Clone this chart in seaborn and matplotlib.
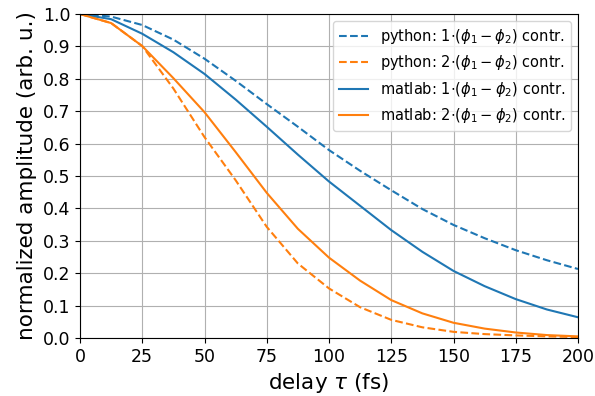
import matplotlib
matplotlib.use("Agg")
import matplotlib.pyplot as plt
import seaborn as sns
import pandas as pd

delay = [0, 12.5, 25, 37.5, 50, 62.5, 75, 87.5, 100, 112.5, 125, 137.5, 150, 162.5, 175, 187.5, 200]
python_1 = [1.0, 0.992, 0.966, 0.921, 0.862, 0.794, 0.722, 0.652, 0.58, 0.516, 0.456, 0.398, 0.349, 0.308, 0.271, 0.24, 0.213]
python_2 = [1.0, 0.972, 0.901, 0.77, 0.62, 0.487, 0.343, 0.23, 0.153, 0.095, 0.056, 0.033, 0.019, 0.012, 0.008, 0.005, 0.003]
matlab_1 = [1.0, 0.984, 0.939, 0.882, 0.815, 0.736, 0.652, 0.566, 0.483, 0.408, 0.333, 0.266, 0.207, 0.16, 0.12, 0.088, 0.064]
matlab_2 = [1.0, 0.972, 0.901, 0.802, 0.697, 0.574, 0.448, 0.337, 0.248, 0.177, 0.117, 0.076, 0.047, 0.029, 0.017, 0.009, 0.005]

labels = [r"python: 1$\cdot(\phi_1-\phi_2)$ contr.",
          r"python: 2$\cdot(\phi_1-\phi_2)$ contr.",
          r"matlab: 1$\cdot(\phi_1-\phi_2)$ contr.",
          r"matlab: 2$\cdot(\phi_1-\phi_2)$ contr."]
series = [python_1, python_2, matlab_1, matlab_2]
colors = ["#1f77b4", "#ff7f0e", "#1f77b4", "#ff7f0e"]
styles = ["--", "--", "-", "-"]

sns.reset_orig()
plt.rcParams["font.family"] = ["DejaVu Sans"]

fig = plt.figure(figsize=(5.95, 3.96), dpi=100)
ax = fig.add_axes([80/595, 1 - 338/396, 498/595, 324/396])

for vals, lab, c, ls in zip(series, labels, colors, styles):
    df = pd.DataFrame({"delay": delay, "amp": vals})
    sns.lineplot(data=df, x="delay", y="amp", ax=ax, color=c, linestyle=ls,
                 linewidth=1.5, label=lab)

ax.set_xlim(0, 200)
ax.set_ylim(0, 1.0)
ax.set_xticks([0, 25, 50, 75, 100, 125, 150, 175, 200])
ax.set_yticks([i / 10 for i in range(11)])
ax.grid(True, color="#b0b0b0", linewidth=0.8)
ax.tick_params(axis="both", labelsize=12.5, direction="out", length=3.5, width=0.8,
               colors="black")
for s in ax.spines.values():
    s.set_color("black")
    s.set_linewidth(0.8)
ax.set_xlabel(r"delay $\tau$ (fs)", fontsize=15.5, color="black")
ax.set_ylabel("normalized amplitude (arb. u.)", fontsize=15.5, color="black")
ax.legend(loc="upper right", fontsize=10.5)

fig.savefig("out.png", dpi=100)
